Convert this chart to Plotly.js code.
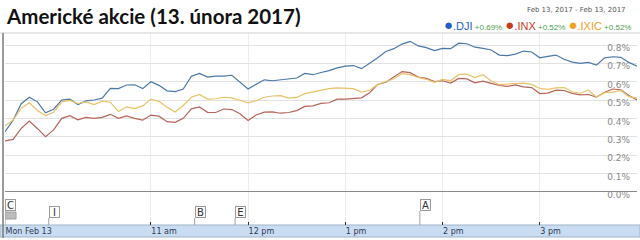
<!DOCTYPE html>
<html><head><meta charset="utf-8">
<script src="https://cdn.plot.ly/plotly-3.0.1.min.js"></script>
<style>html,body{margin:0;padding:0;background:#fff}#chart{width:640px;height:240px}</style>
</head><body><div id="chart"></div>
<script>
const day = '2017-02-13 ';
const times = ['09:30','09:35','09:40','09:45','09:50','09:55',
'10:00','10:05','10:10','10:15','10:20','10:25','10:30','10:35','10:40','10:45','10:50','10:55',
'11:00','11:05','11:10','11:15','11:20','11:25','11:30','11:35','11:40','11:45','11:50','11:55',
'12:00','12:05','12:10','12:15','12:20','12:25','12:30','12:35','12:40','12:45','12:50','12:55',
'13:00','13:05','13:10','13:15','13:20','13:25','13:30','13:35','13:40','13:45','13:50','13:55',
'14:00','14:05','14:10','14:15','14:20','14:25','14:30','14:35','14:40','14:45','14:50','14:55',
'15:00','15:05','15:10','15:15','15:20','15:25','15:30','15:35','15:40','15:45','15:50','15:55',
'16:00'];
const dji = [0.327,0.39,0.48,0.515,0.49,0.43,0.45,0.50,0.505,0.475,
0.495,0.50,0.51,0.564,0.562,0.582,0.583,0.562,0.60,0.58,
0.55,0.546,0.56,0.63,0.645,0.625,0.63,0.63,0.635,0.60,
0.56,0.586,0.61,0.605,0.609,0.612,0.62,0.645,0.638,0.65,
0.66,0.675,0.685,0.688,0.671,0.70,0.73,0.765,0.78,0.805,
0.82,0.795,0.786,0.77,0.782,0.78,0.81,0.807,0.788,0.782,
0.773,0.745,0.742,0.75,0.767,0.762,0.73,0.738,0.745,0.722,
0.707,0.70,0.705,0.69,0.73,0.736,0.733,0.705,0.685];
const inx = [0.277,0.285,0.345,0.385,0.345,0.30,0.337,0.40,0.415,0.392,
0.405,0.40,0.405,0.422,0.40,0.413,0.40,0.39,0.418,0.412,
0.382,0.378,0.40,0.452,0.462,0.433,0.432,0.451,0.448,0.425,
0.388,0.418,0.434,0.435,0.428,0.432,0.442,0.465,0.468,0.482,
0.485,0.505,0.505,0.507,0.512,0.54,0.585,0.597,0.625,0.655,
0.649,0.625,0.618,0.60,0.605,0.592,0.618,0.615,0.594,0.603,
0.591,0.579,0.574,0.582,0.572,0.568,0.535,0.538,0.554,0.552,
0.536,0.528,0.53,0.516,0.542,0.56,0.556,0.525,0.50];
const ixic = [0.36,0.39,0.455,0.485,0.443,0.415,0.433,0.49,0.498,0.481,
0.49,0.475,0.494,0.488,0.437,0.463,0.453,0.468,0.505,0.493,
0.46,0.435,0.47,0.515,0.53,0.505,0.507,0.515,0.512,0.50,
0.484,0.496,0.515,0.522,0.524,0.51,0.514,0.535,0.544,0.555,
0.562,0.566,0.564,0.562,0.543,0.553,0.585,0.60,0.616,0.644,
0.638,0.623,0.613,0.596,0.612,0.605,0.638,0.641,0.622,0.638,
0.604,0.584,0.585,0.59,0.592,0.585,0.563,0.558,0.566,0.568,
0.545,0.537,0.555,0.516,0.54,0.543,0.552,0.518,0.51];
const seriesNames = ['.DJI','.INX','.IXIC'];
const seriesChanges = ['+0.69%','+0.52%','+0.52%'];
const lineColors = ['#4a78a8','#b8645a','#e9c266'];
const legendColors = ['#1f5fc4','#cc3b1c','#f0a21e'];
const tickTimes = ['09:30','11:00','12:00','13:00','14:00','15:00'];
const tickLabels = ['Mon Feb 13','11 am','12 pm','1 pm','2 pm','3 pm'];
const yTicks = [0,0.1,0.2,0.3,0.4,0.5,0.6,0.7,0.8];
const dateRange = 'Feb 13, 2017 - Feb 13, 2017';
const titleText = 'Americké akcie (13. února 2017)';
const flagLabels = ['C','I','B','E','A'];
const flagTimes = ['09:30','09:57','11:27','11:52','13:46'];
const flagHigh = [true,false,false,false,true];

// plot area: y pixels 33..225
const PT = 33, PB = 225, PH = PB - PT;
const py = p => (PB - p) / PH;

const seriesData = [dji, inx, ixic];
const order = [0, 1, 2];
const traces = order.map(i => ({
  x: times.map(t => day + t),
  y: seriesData[i],
  type: 'scatter', mode: 'lines',
  line: {color: lineColors[i], width: 1.2},
  name: seriesNames[i], hoverinfo: 'skip'
}));

let legendText = seriesNames.map((n, i) =>
  '<span style="color:' + legendColors[i] + ';font-size:15px">●</span>' +
  '<span style="color:' + legendColors[i] + ';font-size:11px">' + n + '</span>' +
  '<span style="color:#4aa04a;font-size:8px"> ' + seriesChanges[i] + '</span>'
).join(' ');

const annotations = [
  {xref: 'paper', yref: 'paper', x: (633 - 5) / 632, y: py(24), xanchor: 'right', yanchor: 'middle',
   text: legendText, showarrow: false, font: {family: 'Liberation Sans, Arial', size: 11}},
  {xref: 'paper', yref: 'paper', x: (628 - 5) / 632, y: py(9.5), xanchor: 'right', yanchor: 'middle',
   text: dateRange, showarrow: false, font: {family: 'DejaVu Sans', size: 7, color: '#555'}}
];
const shapes = [
  {type: 'rect', xref: 'paper', yref: 'paper', x0: -5/632, x1: 1 + 3/632, y0: py(237), y1: py(225),
   fillcolor: '#c9dcf1', line: {width: 1, color: '#9fb3c8'}, layer: 'below'},
  {type: 'line', xref: 'paper', yref: 'paper', x0: -5/632, x1: 1 + 3/632, y0: 1, y1: 1,
   line: {color: '#d0d0d0', width: 1}},
  {type: 'line', xref: 'paper', yref: 'paper', x0: -2/632, x1: -2/632, y0: py(238), y1: 1,
   line: {color: '#7a7a7a', width: 1.5}}
];
flagLabels.forEach((lab, i) => {
  const top = flagHigh[i] ? 199 : 206;
  annotations.push({xref: 'x', yref: 'paper', x: day + flagTimes[i], y: py(top),
    xanchor: 'left', yanchor: 'top', text: lab, showarrow: false,
    width: 9, height: 10, align: 'center', valign: 'middle',
    font: {family: 'DejaVu Sans', size: 10, color: '#333'},
    bordercolor: '#9a9a9a', borderwidth: 1, borderpad: 0, bgcolor: '#fbfbfb'});
  shapes.push({type: 'line', xref: 'x', yref: 'paper', x0: day + flagTimes[i], x1: day + flagTimes[i],
    y0: 0, y1: py(top + 12), line: {color: '#a0a0a0', width: 1}});
  if (lab === 'C') {
    shapes.push({type: 'rect', xref: 'x', yref: 'paper', xsizemode: 'pixel', xanchor: day + flagTimes[i],
      x0: 0, x1: 11, y0: py(219), y1: py(212), fillcolor: '#bdbdbd', line: {width: 1, color: '#a0a0a0'}});
  }
});

const layout = {
  width: 640, height: 240,
  margin: {l: 5, r: 3, t: PT, b: 240 - PB},
  paper_bgcolor: '#fff', plot_bgcolor: '#fff',
  showlegend: false, hovermode: false,
  title: {text: '<b>' + titleText + '</b>', xref: 'container', yref: 'container',
    x: 7/640, xanchor: 'left', y: 1 - 17/240, yanchor: 'middle',
    font: {family: 'Lato', size: 20.5, color: '#111'}},
  xaxis: {type: 'date', range: [day + '09:30', day + '16:00'],
    tickvals: tickTimes.map(t => day + t), ticktext: tickLabels,
    ticks: 'inside', ticklen: 3, tickcolor: '#333', tickwidth: 1,
    ticklabelposition: 'outside right', ticklabelstandoff: 0,
    tickfont: {family: 'DejaVu Sans', size: 8, color: '#2b3a55'},
    showgrid: true, gridcolor: '#ececec', zeroline: false, showline: false, fixedrange: true},
  yaxis: {range: [-(PB - 191.7) / 183.4, 0.8 + (45 - PT) / 183.4],
    tickvals: yTicks, ticktext: yTicks.map(v => v.toFixed(1) + '%'),
    side: 'right', ticklabelposition: 'inside', ticklabelshift: 3, ticklabelstandoff: 4,
    tickfont: {family: 'DejaVu Sans', size: 9, color: '#888'},
    showgrid: true, gridcolor: '#e2e2e2', zeroline: true, zerolinecolor: '#8a8a8a', zerolinewidth: 1,
    showline: false, ticks: '', fixedrange: true},
  annotations: annotations,
  shapes: shapes
};
Plotly.newPlot('chart', traces, layout, {displayModeBar: false, staticPlot: true});
</script></body></html>
